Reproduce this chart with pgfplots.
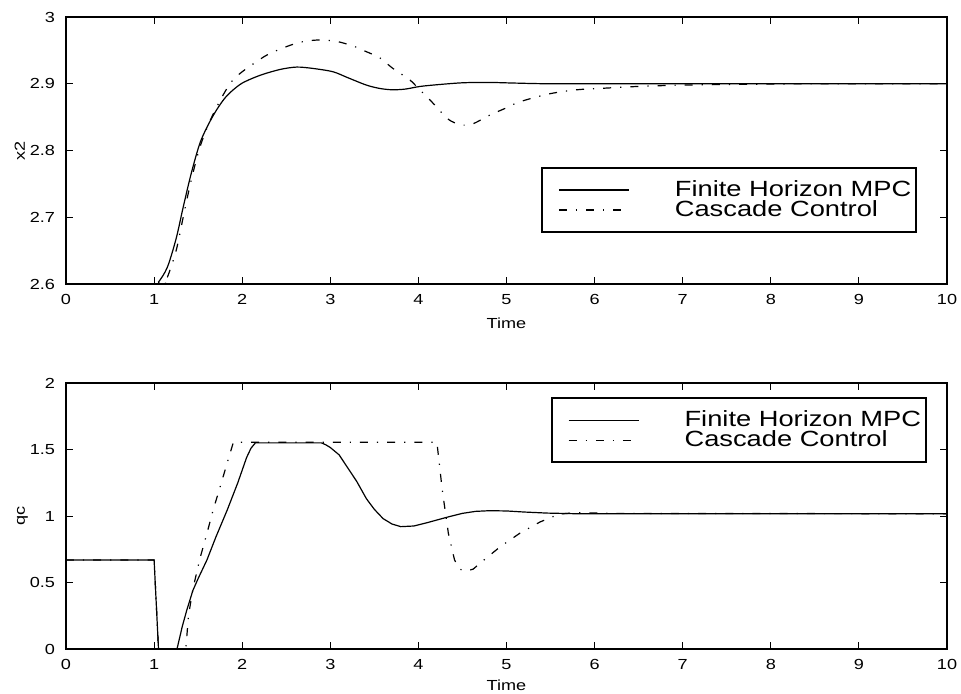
\documentclass[border=0pt]{standalone}
\usepackage{fontspec}
\setmainfont{Liberation Sans}[FakeStretch=1.24]
\usepackage{pgfplots}
\pgfplotsset{compat=1.18}

\pgfplotsset{
  mpcstyle/.style={
    scale only axis,
    width=440.5pt,
    xmin=0, xmax=10,
    xtick={0,1,...,10},
    tick align=inside,
    major tick length=3.5pt,
    axis line style={line width=1pt},
    every tick/.style={black, line width=0.5pt},
    /pgf/number format/assume math mode=true,
    tick label style={font=\fontsize{7.3}{8}\selectfont},
    yticklabel style={xshift=-2pt},
    xticklabel style={yshift=-1.7pt},
    label style={font=\fontsize{7.3}{8}\selectfont},
    ylabel style={at={(axis description cs:0,0.5)}, anchor=base, xshift=0pt, yshift=20.5pt},
    legend cell align=left,
    legend image code/.code={
      \path[draw=none] (0pt,0pt) -- (64pt,0pt);
      \draw[##1] (6pt,0pt) -- (41pt,0pt);
    },
  },
  mpcleg/.style={
    legend style={at={#1}, anchor=north west, draw=black, line width=1pt,
      inner xsep=2.5pt, inner ysep=6pt, row sep=0pt, column sep=0pt,
      font=\fontsize{11}{10}\selectfont,
      nodes={inner sep=0pt, text height=8pt, text depth=2pt}},
  },
}

\begin{document}
\begin{tikzpicture}
% upper panel: x2
\begin{axis}[mpcstyle,
  at={(33pt,204.5pt)}, anchor=south west,
  height=133.5pt,
  ymin=2.6, ymax=3,
  ytick={2.6,2.7,2.8,2.9,3},
  yticklabels={2.6,2.7,2.8,2.9,3},
  ylabel={x2},
  xlabel={Time},
  xlabel style={at={(axis description cs:0.5,0)}, anchor=base, yshift=-22pt},
  mpcleg={(0.539,0.438)},
]
\addplot[black, line width=0.6pt, smooth] coordinates {
  (0,2.6) (1.0,2.6) (1.05,2.603) (1.15,2.625) (1.25,2.668) (1.33,2.715)
  (1.42,2.765) (1.52,2.811) (1.62,2.84) (1.71,2.861) (1.8,2.878) (1.89,2.89)
  (2.0,2.901) (2.15,2.91) (2.28,2.916) (2.45,2.922) (2.62,2.925) (2.8,2.923)
  (3.03,2.918) (3.2,2.909) (3.41,2.898) (3.56,2.893) (3.7,2.891) (3.85,2.892)
  (4.02,2.896) (4.25,2.899) (4.51,2.9015) (4.8,2.902) (5.1,2.901) (5.5,2.9)
  (6.5,2.9) (10,2.9)
};
\addplot[black, line width=0.6pt, smooth, dash pattern=on 4pt off 4.5pt on 0.6pt off 4.5pt] coordinates {
  (0,2.6) (1.05,2.6) (1.1,2.603) (1.15,2.61) (1.25,2.65) (1.33,2.70)
  (1.42,2.755) (1.52,2.805) (1.62,2.84) (1.71,2.865) (1.8,2.887) (1.89,2.905)
  (2.0,2.918) (2.15,2.932) (2.28,2.943) (2.45,2.953) (2.65,2.962) (2.85,2.9655)
  (3.05,2.964) (3.25,2.957) (3.41,2.948) (3.56,2.939) (3.71,2.923) (3.9,2.906)
  (4.0,2.893) (4.13,2.876) (4.32,2.849) (4.42,2.841) (4.51,2.838) (4.62,2.84)
  (4.81,2.853) (5.0,2.864) (5.15,2.873) (5.49,2.885) (5.8,2.891) (6.06,2.893)
  (6.5,2.896) (7.0,2.898) (7.57,2.899) (8.5,2.9) (10,2.9)
};
\legend{Finite Horizon MPC, Cascade Control}
\end{axis}

% lower panel: qc
\begin{axis}[mpcstyle,
  at={(33pt,22pt)}, anchor=south west,
  height=133pt,
  ymin=0, ymax=2,
  ytick={0,0.5,1,1.5,2},
  yticklabels={0,0.5,1,1.5,2},
  ylabel={qc},
  xlabel={Time},
  xlabel style={at={(axis description cs:0.5,0)}, anchor=base, yshift=-20.5pt},
  mpcleg={(0.55,0.947)},
]
\addplot[black, line width=0.6pt] coordinates {
  (0,0.67) (1.0,0.67) (1.05,0) (1.26,0) (1.32,0.17) (1.37,0.29) (1.44,0.44)
  (1.5,0.53) (1.6,0.67) (1.7,0.84) (1.83,1.045) (1.95,1.25) (2.05,1.44)
  (2.1,1.51) (2.15,1.55) (2.9,1.55) (2.95,1.535) (3.0,1.515) (3.1,1.46)
  (3.2,1.36) (3.3,1.26) (3.41,1.13) (3.5,1.05) (3.6,0.98) (3.7,0.94)
  (3.8,0.92) (3.95,0.925) (4.1,0.95) (4.32,0.99) (4.5,1.02) (4.65,1.035)
  (4.81,1.04) (5.0,1.038) (5.2,1.03) (5.46,1.022) (5.8,1.017) (6.5,1.017)
  (10,1.017)
};
\addplot[black, line width=0.6pt, dash pattern=on 4pt off 4.5pt on 0.6pt off 4.5pt] coordinates {
  (0,0.67) (1.0,0.67) (1.05,0) (1.36,0) (1.39,0.25) (1.44,0.45) (1.52,0.68)
  (1.6,0.87) (1.67,1.045) (1.75,1.22) (1.83,1.40) (1.9,1.555) (4.21,1.555)
  (4.27,1.2) (4.34,0.87) (4.41,0.67) (4.47,0.6) (4.54,0.586) (4.62,0.6)
  (4.7,0.645) (4.93,0.77) (5.15,0.87) (5.38,0.955) (5.6,1.015) (5.8,1.025)
  (6.2,1.02) (10,1.017)
};
\legend{Finite Horizon MPC, Cascade Control}
\end{axis}
\pgfresetboundingbox
\path[use as bounding box] (0,0) rectangle (480.5pt,346.5pt);
\end{tikzpicture}
\end{document}
